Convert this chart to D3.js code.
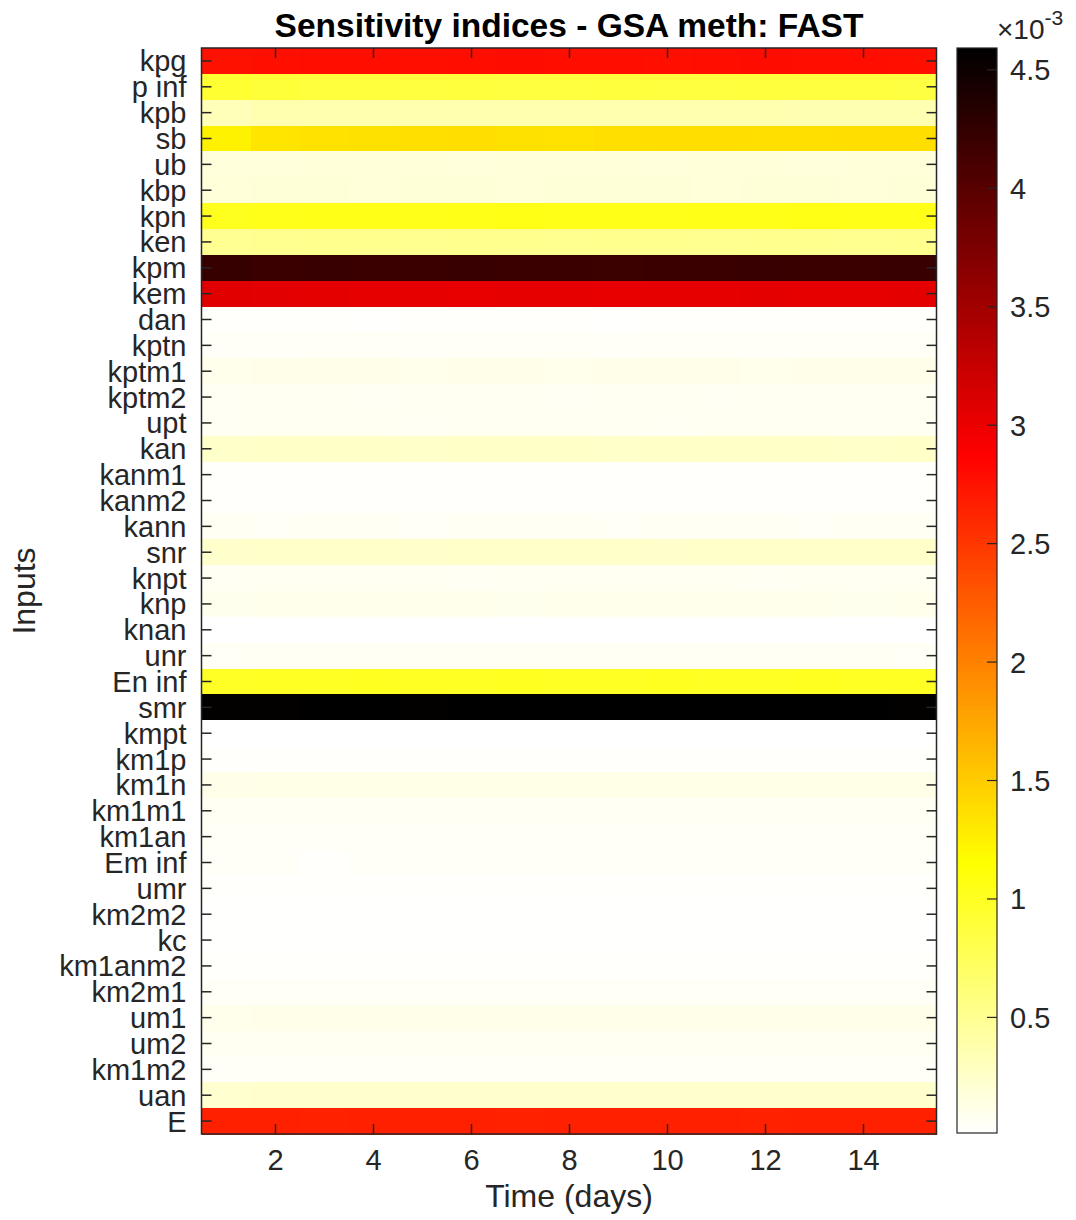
<!DOCTYPE html>
<html>
<head>
<meta charset="utf-8">
<script src="https://cdn.jsdelivr.net/npm/d3@7"></script>
<style>
  body { margin: 0; background: #fff; }
  svg { display: block; font-family: "Liberation Sans", Arial, Helvetica, sans-serif; }
  .tick-label { fill: #262626; font-size: 29px; }
  .axis-label { fill: #262626; font-size: 32px; }
</style>
</head>
<body>
<div class="viz"></div>
<script>
// Inputs (rows, top to bottom)
const inputs = [
  "kpg", "p inf", "kpb", "sb", "ub", "kbp", "kpn", "ken", "kpm", "kem",
  "dan", "kptn", "kptm1", "kptm2", "upt", "kan", "kanm1", "kanm2", "kann", "snr",
  "knpt", "knp", "knan", "unr", "En inf", "smr", "kmpt", "km1p", "km1n", "km1m1",
  "km1an", "Em inf", "umr", "km2m2", "kc", "km1anm2", "km2m1", "um1", "um2", "km1m2",
  "uan", "E"
];

// Time (days)
const days = [1, 2, 3, 4, 5, 6, 7, 8, 9, 10, 11, 12, 13, 14, 15];

// Sensitivity indices (x 1e-3), one row per input, one value per day
const sensitivity = [
  [2.76, 2.77, 2.78, 2.78, 2.77, 2.78, 2.79, 2.78, 2.78, 2.77, 2.78, 2.79, 2.78, 2.78, 2.77], // kpg
  [0.93, 0.90, 0.88, 0.88, 0.87, 0.88, 0.87, 0.87, 0.88, 0.87, 0.87, 0.88, 0.87, 0.87, 0.86], // p inf
  [0.32, 0.37, 0.38, 0.38, 0.38, 0.37, 0.38, 0.38, 0.37, 0.38, 0.38, 0.37, 0.36, 0.36, 0.36], // kpb
  [1.24, 1.33, 1.35, 1.36, 1.37, 1.38, 1.36, 1.35, 1.37, 1.38, 1.38, 1.37, 1.37, 1.38, 1.38], // sb
  [0.17, 0.17, 0.18, 0.18, 0.18, 0.17, 0.18, 0.18, 0.18, 0.17, 0.18, 0.18, 0.17, 0.18, 0.18], // ub
  [0.18, 0.19, 0.19, 0.18, 0.19, 0.19, 0.18, 0.19, 0.19, 0.19, 0.18, 0.19, 0.19, 0.18, 0.19], // kbp
  [1.02, 1.04, 1.05, 1.05, 1.04, 1.05, 1.06, 1.05, 1.05, 1.04, 1.05, 1.05, 1.06, 1.05, 1.05], // kpn
  [0.50, 0.51, 0.52, 0.52, 0.51, 0.52, 0.52, 0.51, 0.52, 0.52, 0.51, 0.52, 0.52, 0.51, 0.52], // ken
  [4.22, 4.20, 4.21, 4.20, 4.20, 4.21, 4.20, 4.20, 4.19, 4.20, 4.20, 4.21, 4.20, 4.20, 4.21], // kpm
  [3.08, 3.07, 3.05, 3.04, 3.04, 3.03, 3.04, 3.04, 3.03, 3.04, 3.04, 3.05, 3.04, 3.04, 3.05], // kem
  [0.03, 0.03, 0.03, 0.02, 0.03, 0.03, 0.03, 0.03, 0.02, 0.03, 0.03, 0.03, 0.03, 0.03, 0.03], // dan
  [0.04, 0.04, 0.05, 0.05, 0.04, 0.05, 0.05, 0.05, 0.04, 0.05, 0.05, 0.04, 0.05, 0.05, 0.05], // kptn
  [0.10, 0.11, 0.11, 0.11, 0.10, 0.11, 0.11, 0.10, 0.11, 0.11, 0.11, 0.10, 0.11, 0.11, 0.11], // kptm1
  [0.06, 0.07, 0.07, 0.06, 0.07, 0.07, 0.07, 0.06, 0.07, 0.07, 0.06, 0.07, 0.07, 0.07, 0.07], // kptm2
  [0.06, 0.07, 0.07, 0.07, 0.06, 0.07, 0.07, 0.07, 0.07, 0.06, 0.07, 0.07, 0.07, 0.07, 0.07], // upt
  [0.25, 0.26, 0.26, 0.26, 0.25, 0.26, 0.26, 0.26, 0.25, 0.26, 0.26, 0.26, 0.26, 0.25, 0.26], // kan
  [0.03, 0.03, 0.03, 0.03, 0.03, 0.03, 0.03, 0.03, 0.03, 0.03, 0.03, 0.03, 0.03, 0.03, 0.03], // kanm1
  [0.03, 0.03, 0.03, 0.03, 0.03, 0.03, 0.03, 0.03, 0.03, 0.03, 0.03, 0.03, 0.03, 0.03, 0.03], // kanm2
  [0.06, 0.05, 0.06, 0.06, 0.05, 0.06, 0.06, 0.06, 0.05, 0.06, 0.06, 0.06, 0.05, 0.06, 0.06], // kann
  [0.24, 0.25, 0.25, 0.25, 0.24, 0.25, 0.25, 0.25, 0.25, 0.24, 0.25, 0.25, 0.25, 0.25, 0.25], // snr
  [0.06, 0.07, 0.07, 0.07, 0.07, 0.06, 0.07, 0.07, 0.07, 0.07, 0.07, 0.06, 0.07, 0.07, 0.07], // knpt
  [0.09, 0.10, 0.10, 0.10, 0.10, 0.10, 0.09, 0.10, 0.10, 0.10, 0.10, 0.10, 0.10, 0.09, 0.10], // knp
  [0.01, 0.01, 0.01, 0.01, 0.01, 0.01, 0.01, 0.01, 0.01, 0.01, 0.01, 0.01, 0.01, 0.01, 0.01], // knan
  [0.05, 0.06, 0.06, 0.06, 0.06, 0.06, 0.06, 0.06, 0.06, 0.06, 0.06, 0.06, 0.06, 0.06, 0.05], // unr
  [0.99, 1.00, 1.00, 1.01, 1.00, 1.00, 1.01, 1.00, 1.00, 1.01, 1.00, 1.00, 1.01, 1.00, 1.00], // En inf
  [4.57, 4.57, 4.58, 4.58, 4.57, 4.58, 4.58, 4.59, 4.58, 4.58, 4.58, 4.58, 4.58, 4.58, 4.57], // smr
  [0.01, 0.01, 0.01, 0.01, 0.01, 0.01, 0.01, 0.01, 0.01, 0.01, 0.01, 0.01, 0.01, 0.01, 0.01], // kmpt
  [0.03, 0.03, 0.03, 0.03, 0.03, 0.03, 0.03, 0.03, 0.03, 0.03, 0.03, 0.03, 0.03, 0.03, 0.03], // km1p
  [0.11, 0.12, 0.12, 0.12, 0.12, 0.12, 0.12, 0.12, 0.12, 0.12, 0.12, 0.12, 0.12, 0.12, 0.12], // km1n
  [0.06, 0.06, 0.06, 0.06, 0.06, 0.06, 0.06, 0.06, 0.06, 0.06, 0.06, 0.06, 0.06, 0.06, 0.06], // km1m1
  [0.05, 0.05, 0.05, 0.05, 0.05, 0.05, 0.05, 0.05, 0.05, 0.05, 0.05, 0.05, 0.05, 0.05, 0.05], // km1an
  [0.04, 0.04, 0.03, 0.04, 0.04, 0.04, 0.04, 0.04, 0.04, 0.04, 0.04, 0.04, 0.04, 0.04, 0.04], // Em inf
  [0.03, 0.03, 0.03, 0.03, 0.03, 0.03, 0.03, 0.03, 0.03, 0.03, 0.03, 0.03, 0.03, 0.03, 0.03], // umr
  [0.02, 0.02, 0.02, 0.02, 0.02, 0.02, 0.02, 0.02, 0.02, 0.02, 0.02, 0.02, 0.02, 0.02, 0.02], // km2m2
  [0.02, 0.02, 0.02, 0.02, 0.02, 0.02, 0.02, 0.02, 0.02, 0.02, 0.02, 0.02, 0.02, 0.02, 0.02], // kc
  [0.03, 0.03, 0.03, 0.03, 0.03, 0.03, 0.03, 0.03, 0.03, 0.03, 0.03, 0.03, 0.03, 0.03, 0.03], // km1anm2
  [0.05, 0.05, 0.05, 0.05, 0.05, 0.05, 0.05, 0.05, 0.05, 0.05, 0.05, 0.05, 0.05, 0.05, 0.05], // km2m1
  [0.10, 0.11, 0.11, 0.11, 0.11, 0.11, 0.11, 0.11, 0.11, 0.11, 0.11, 0.11, 0.11, 0.11, 0.11], // um1
  [0.07, 0.07, 0.07, 0.07, 0.07, 0.07, 0.07, 0.07, 0.07, 0.07, 0.07, 0.07, 0.07, 0.07, 0.07], // um2
  [0.04, 0.04, 0.04, 0.04, 0.04, 0.04, 0.04, 0.04, 0.04, 0.04, 0.04, 0.04, 0.04, 0.04, 0.04], // km1m2
  [0.22, 0.23, 0.23, 0.23, 0.23, 0.23, 0.23, 0.23, 0.23, 0.23, 0.23, 0.23, 0.23, 0.23, 0.23], // uan
  [2.66, 2.66, 2.65, 2.66, 2.66, 2.66, 2.65, 2.66, 2.66, 2.66, 2.66, 2.65, 2.66, 2.66, 2.66]  // E
];

// Tick labels
const xTicks = [2, 4, 6, 8, 10, 12, 14];
const colorTicks = [0.5, 1, 1.5, 2, 2.5, 3, 3.5, 4, 4.5];

const totalWidth = 1076;
const totalHeight = 1220;

// plot box
const plot = { left: 201.5, right: 936.5, top: 48, bottom: 1134 };
// colorbar box
const cbar = { left: 957, right: 997, top: 48, bottom: 1133 };

const textColor = "#262626";

const svg = d3
  .select(".viz")
  .append("svg")
  .attr("width", totalWidth)
  .attr("height", totalHeight);

// flattened cells
const cells = [];
sensitivity.forEach((row, i) => {
  row.forEach((v, j) => cells.push({ input: inputs[i], day: days[j], value: v }));
});

const allValues = cells.map((d) => d.value);
const vMin = d3.min(allValues);
const vMax = d3.max(allValues);

// flipped MATLAB "hot" colormap: low = white, high = black
function hotReversed(s) {
  const t = 1 - Math.max(0, Math.min(1, s));
  const r = Math.min(1, t / 0.375);
  const g = Math.max(0, Math.min(1, (t - 0.375) / 0.375));
  const b = Math.max(0, Math.min(1, (t - 0.75) / 0.25));
  return d3.rgb(r * 255, g * 255, b * 255).formatHex();
}

const color = d3.scaleSequential(hotReversed).domain([vMin, vMax]);

// Scales
const xScale = d3.scaleLinear().domain([0.5, 15.5]).range([plot.left, plot.right]);
const yScale = d3.scaleBand().domain(inputs).range([plot.top, plot.bottom]);

// Heatmap cells
svg
  .append("g")
  .attr("shape-rendering", "crispEdges")
  .selectAll("rect")
  .data(cells)
  .enter()
  .append("rect")
  .attr("x", (d) => xScale(d.day - 0.5))
  .attr("y", (d) => yScale(d.input))
  .attr("width", (d) => xScale(d.day + 0.5) - xScale(d.day - 0.5) + 0.5)
  .attr("height", yScale.bandwidth() + 0.5)
  .attr("fill", (d) => color(d.value));

// Axes (ticks pointing inward, on all four sides)
const tickLen = 10;

const yLeft = svg
  .append("g")
  .attr("transform", `translate(${plot.left},0)`)
  .call(d3.axisLeft(yScale).tickSize(-tickLen).tickPadding(15));
const yRight = svg
  .append("g")
  .attr("transform", `translate(${plot.right},0)`)
  .call(d3.axisRight(yScale).tickSize(-tickLen).tickFormat(""));
const xBottom = svg
  .append("g")
  .attr("transform", `translate(0,${plot.bottom})`)
  .call(d3.axisBottom(xScale).tickValues(xTicks).tickSize(-tickLen).tickPadding(15));
const xTop = svg
  .append("g")
  .attr("transform", `translate(0,${plot.top})`)
  .call(d3.axisTop(xScale).tickValues(xTicks).tickSize(-tickLen).tickFormat(""));

[yLeft, yRight, xBottom, xTop].forEach((ax) => {
  ax.select(".domain").remove();
  ax.selectAll(".tick line").attr("stroke", textColor).attr("stroke-width", 1.5);
  ax.selectAll(".tick text")
    .attr("class", "tick-label")
    .attr("font-family", null)
    .attr("font-size", null)
    .attr("fill", textColor);
});

yLeft.selectAll(".tick text").attr("dy", "0.36em");
xBottom.selectAll(".tick text").attr("dy", "0.71em");

// box
svg
  .append("rect")
  .attr("x", plot.left)
  .attr("y", plot.top)
  .attr("width", plot.right - plot.left)
  .attr("height", plot.bottom - plot.top)
  .attr("fill", "none")
  .attr("stroke", textColor)
  .attr("stroke-width", 1.5);

// Title
svg
  .append("text")
  .attr("x", (plot.left + plot.right) / 2)
  .attr("y", 37)
  .attr("text-anchor", "middle")
  .attr("fill", "#000")
  .style("font-size", "33.5px")
  .style("font-weight", "bold")
  .text("Sensitivity indices - GSA meth: FAST");

// Axis labels
svg
  .append("text")
  .attr("class", "axis-label")
  .attr("x", (plot.left + plot.right) / 2)
  .attr("y", 1207)
  .attr("text-anchor", "middle")
  .text("Time (days)");

svg
  .append("text")
  .attr("class", "axis-label")
  .attr("transform", `translate(35,${(plot.top + plot.bottom) / 2}) rotate(-90)`)
  .attr("text-anchor", "middle")
  .text("Inputs");

// Colorbar
const cScale = d3.scaleLinear().domain([vMin, vMax]).range([cbar.bottom, cbar.top]);
const steps = d3.range(0, 256);
const stepH = (cbar.bottom - cbar.top) / steps.length;

svg
  .append("g")
  .attr("shape-rendering", "crispEdges")
  .selectAll("rect")
  .data(steps)
  .enter()
  .append("rect")
  .attr("x", cbar.left)
  .attr("width", cbar.right - cbar.left)
  .attr("y", (i) => cbar.bottom - (i + 1) * stepH)
  .attr("height", stepH + 0.6)
  .attr("fill", (i) => hotReversed((i + 0.5) / steps.length));

const cAxis = svg
  .append("g")
  .attr("transform", `translate(${cbar.right},0)`)
  .call(d3.axisRight(cScale).tickValues(colorTicks).tickSize(-tickLen).tickPadding(13).tickFormat(d3.format("")));
cAxis.select(".domain").remove();
cAxis.selectAll(".tick line").attr("stroke", textColor).attr("stroke-width", 1.2);
cAxis.selectAll(".tick text")
  .attr("class", "tick-label")
  .attr("font-family", null)
  .attr("font-size", null)
  .attr("fill", textColor)
  .attr("dy", "0.36em");

svg
  .append("rect")
  .attr("x", cbar.left)
  .attr("y", cbar.top)
  .attr("width", cbar.right - cbar.left)
  .attr("height", cbar.bottom - cbar.top)
  .attr("fill", "none")
  .attr("stroke", textColor)
  .attr("stroke-width", 1.2);

// exponent label
const expo = svg
  .append("text")
  .attr("x", 997)
  .attr("y", 39)
  .attr("fill", textColor)
  .style("font-size", "28px");
expo.append("tspan").text("\u00d710");
expo.append("tspan").attr("dy", -14).style("font-size", "21px").text("-3");
</script>
</body>
</html>
